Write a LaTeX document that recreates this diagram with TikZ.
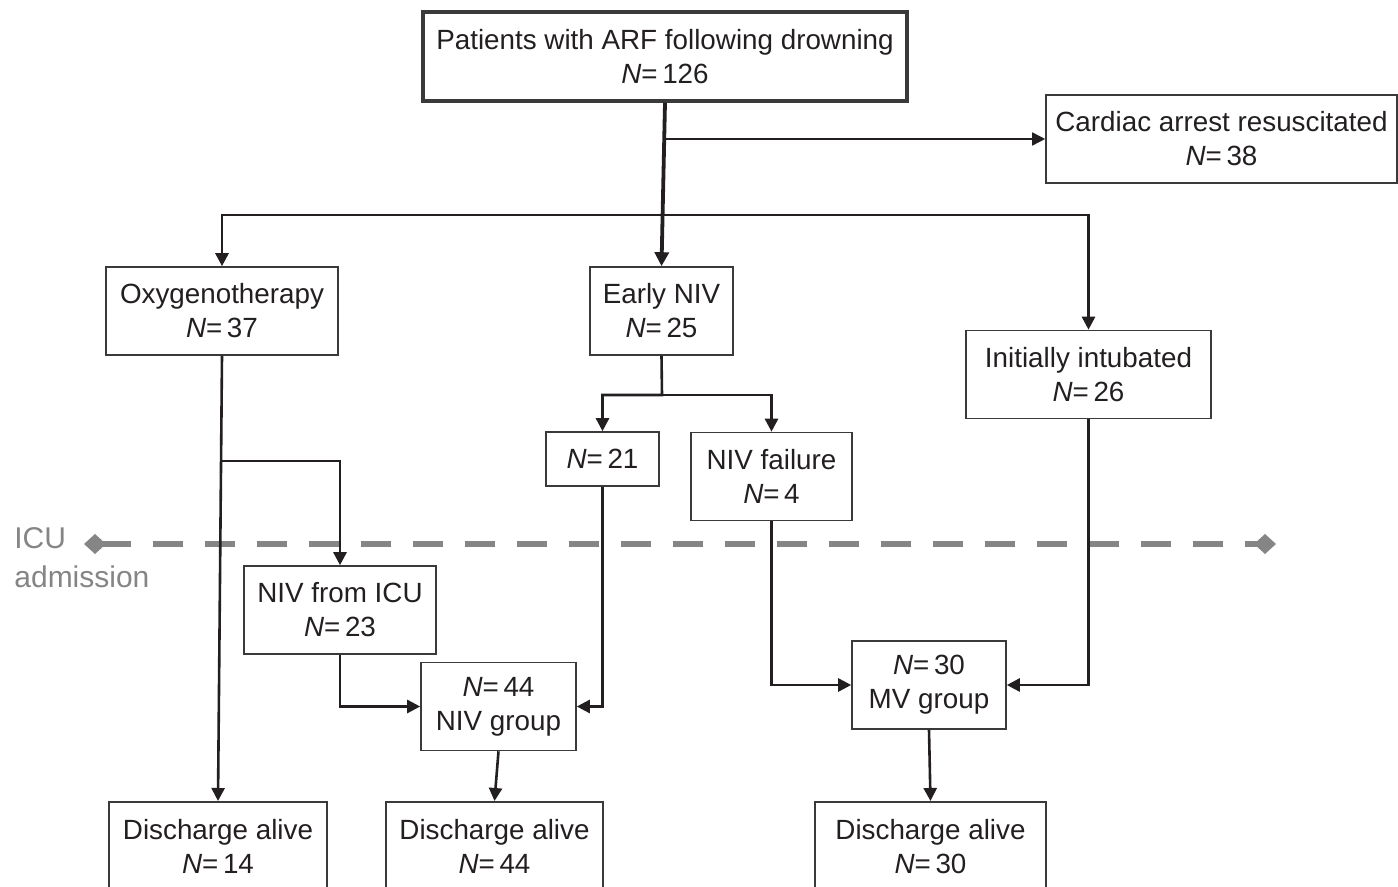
\documentclass[tikz,border=0pt]{standalone}
\usepackage{fontspec}
\setmainfont{Liberation Sans}
\usetikzlibrary{arrows.meta}
\definecolor{txt}{HTML}{231F20}
\definecolor{boxc}{HTML}{3A3A3A}
\definecolor{icugray}{HTML}{858585}

\begin{document}
\begin{tikzpicture}[x=0.5pt,y=-0.5pt]
\tikzstyle{every node}+=[inner sep=0pt, text=txt, align=center, font=\fontsize{13.9}{17}\selectfont]
\tikzstyle{box}=[draw=boxc, line width=0.8pt, minimum height=44pt]
\tikzstyle{arr}=[draw=txt, line width=1.3pt, -{Triangle[length=6.5pt,width=6.5pt]}]
\useasboundingbox (0,0) rectangle (1398,887);
\clip (0,0) rectangle (1398,887);
% ICU admission line
\draw [icugray, line width=3.2pt, dash pattern=on 15pt off 11pt,
  {Diamond[length=11pt,width=10pt]}-{Diamond[length=11pt,width=10pt]}] (84,544) -- (1276,544);
\node [anchor=west, text=icugray, font=\fontsize{15}{17}\selectfont] (icu) at (14,538) {ICU};
\node [anchor=west, text=icugray, font=\fontsize{15}{17}\selectfont] (adm) at (14,577) {admission};
% boxes
\node [box, line width=1.8pt, minimum width=242pt, minimum height=44.5pt] (arf) at (665,56.5) {Patients with ARF following drowning\\\textit{N}=\,126};
\node [box, minimum width=175.5pt] (cardiac) at (1221.5,139) {Cardiac arrest resuscitated\\\textit{N}=\,38};
\node [box, minimum width=116pt] (oxy) at (222,311) {Oxygenotherapy\\\textit{N}=\,37};
\node [box, minimum width=71.5pt] (early) at (661.5,311) {Early NIV\\\textit{N}=\,25};
\node [box, minimum width=122.5pt] (intub) at (1088.5,374.5) {Initially intubated\\\textit{N}=\,26};
\node [box, minimum width=56.5pt, minimum height=27pt] (n21) at (602.5,459) {\textit{N}=\,21};
\node [box, minimum width=80.5pt] (fail) at (771.5,476.5) {NIV failure\\\textit{N}=\,4};
\node [box, minimum width=96pt] (icuniv) at (340,610) {NIV from ICU\\\textit{N}=\,23};
\node [box, minimum width=77.5pt] (nivgrp) at (498.5,706.5) {\textit{N}=\,44\\NIV group};
\node [box, minimum width=77pt] (mvgrp) at (929,685) {\textit{N}=\,30\\MV group};
\node [box, minimum width=109pt, minimum height=44.5pt, anchor=north] (dis1) at (218,801) {Discharge alive\\\textit{N}=\,14};
\node [box, minimum width=108.5pt, minimum height=44.5pt, anchor=north] (dis2) at (494.5,801) {Discharge alive\\\textit{N}=\,44};
\node [box, minimum width=115.5pt, minimum height=44.5pt, anchor=north] (dis3) at (930.5,801) {Discharge alive\\\textit{N}=\,30};
% connectors
\coordinate (bus) at (665,215);
\coordinate (split) at (662,395);
\draw [arr, line width=0.8pt] (arf.south |- cardiac.west) -- (cardiac.west);
\draw [arr, line width=1.4pt] (bus) -| (oxy.north);
\draw [arr, line width=1.4pt] (bus) -| (intub.north);
\draw [arr, line width=1.9pt, -{Triangle[length=7pt,width=7pt]}] (arf.south) -- (early.north);
\draw [arr] (early.south) -- (split) -| (n21.north);
\draw [arr] (split) -| (fail.north);
\draw [arr] (oxy.south) -- (dis1.north);
\draw [arr] (oxy.south |- 0,461) -| (icuniv.north);
\draw [arr] (icuniv.south) |- (nivgrp.west);
\draw [arr] (n21.south) |- (nivgrp.east);
\draw [arr] (nivgrp.south) -- (dis2.north);
\draw [arr] (fail.south) |- (mvgrp.west);
\draw [arr] (intub.south) |- (mvgrp.east);
\draw [arr] (mvgrp.south) -- (dis3.north);
\end{tikzpicture}
\end{document}
